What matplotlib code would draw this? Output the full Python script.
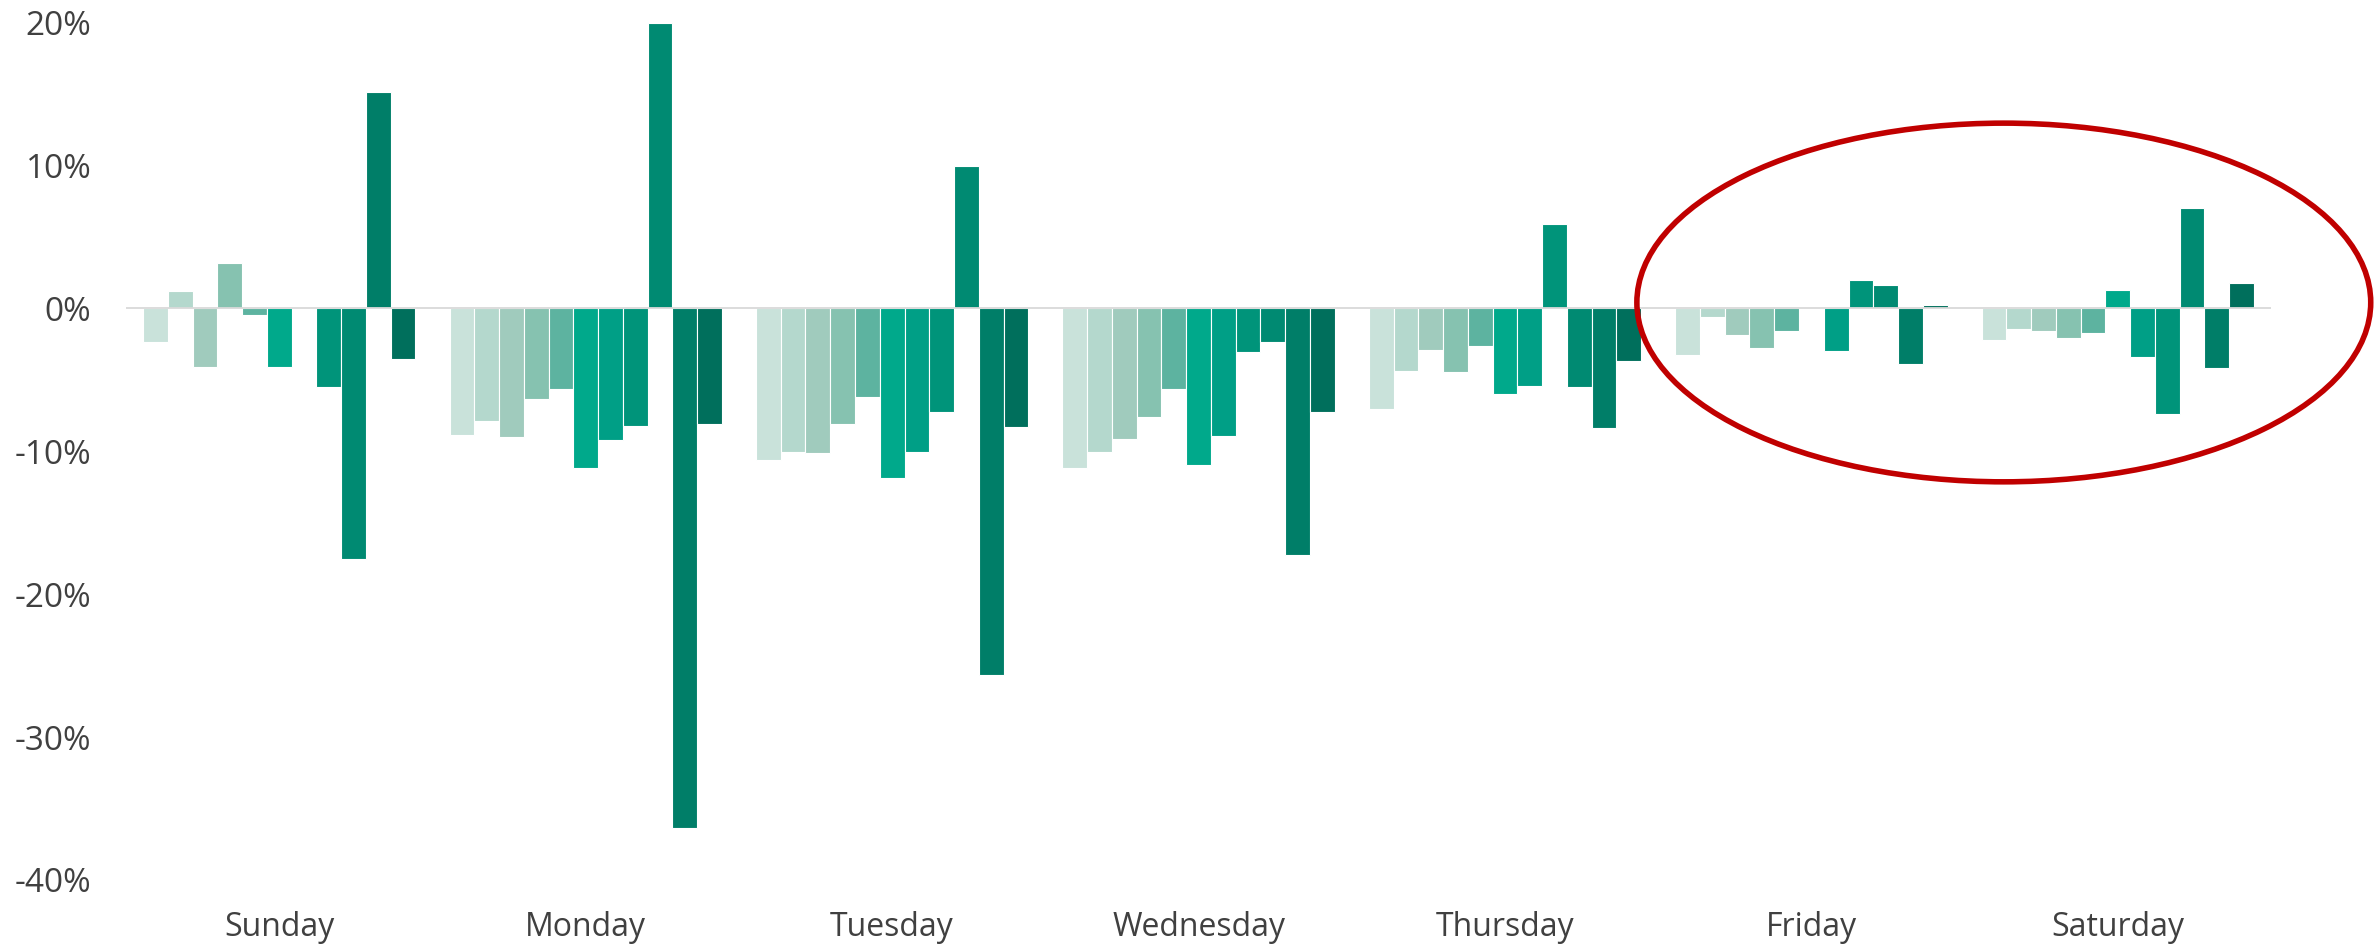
import numpy as np
import matplotlib
matplotlib.use("Agg")
import matplotlib.pyplot as plt
from matplotlib.patches import Ellipse
from matplotlib.ticker import FuncFormatter

plt.rcParams['font.family'] = ['Open Sans', 'DejaVu Sans']

days = ["Sunday", "Monday", "Tuesday", "Wednesday", "Thursday", "Friday", "Saturday"]

# percentage change per day, one list per series (11 series, light to dark)
s01 = [-2.34, -8.85, -10.59, -11.18, -7.04, -3.23, -2.22]
s02 = [1.24, -7.85, -10.02, -10.08, -4.40, -0.61, -1.47]
s03 = [-4.08, -9.00, -10.15, -9.17, -2.90, -1.85, -1.59]
s04 = [3.20, -6.35, -8.11, -7.58, -4.47, -2.81, -2.06]
s05 = [-0.46, -5.62, -6.17, -5.67, -2.67, -1.59, -1.73]
s06 = [-4.08, -11.15, -11.87, -10.97, -6.01, np.nan, 1.29]
s07 = [np.nan, -9.19, -10.05, -8.92, -5.43, -3.02, -3.42]
s08 = [-5.48, -8.23, -7.27, -3.06, 5.92, 1.99, -7.40]
s09 = [-17.53, 20.00, 9.96, -2.39, -5.47, 1.61, 7.04]
s10 = [15.12, -36.38, -25.65, -17.26, -8.40, -3.91, -4.16]
s11 = [-3.52, -8.08, -8.30, -7.23, -3.65, 0.26, 1.75]

series = [s01, s02, s03, s04, s05, s06, s07, s08, s09, s10, s11]
colors = ["#c9e2da", "#b4d8cd", "#a0cbbd", "#86c2b0", "#5db3a0", "#00a98b",
          "#009f86", "#00947a", "#008a72", "#007e68", "#006f5c"]

fig = plt.figure(figsize=(23.79, 9.47), dpi=100)
ax = fig.add_axes([0.0530, 0.0708, 0.9016, 0.9054])

x = np.arange(len(days))
n = len(series)
step = 0.0808
for j, (vals, col) in enumerate(zip(series, colors)):
    ax.bar(x + (j - (n - 1) / 2) * step, np.array(vals, dtype=float), width=step,
           color=col, edgecolor="white", linewidth=0.8, zorder=2)

ax.axhline(0, color="#d9d9d9", linewidth=1.3, zorder=3)

ax.set_xlim(-0.5, len(days) - 0.5)
ax.set_ylim(-40, 20)
ax.set_yticks(np.arange(-40, 21, 10))
ax.yaxis.set_major_formatter(FuncFormatter(lambda v, p: f"{v:.0f}%"))
ax.set_xticks(x)
ax.set_xticklabels(days)

for sp in ax.spines.values():
    sp.set_visible(False)
ax.tick_params(axis="both", length=0, labelcolor="#404040")
ax.tick_params(axis="x", labelsize=23, pad=22)
ax.tick_params(axis="y", labelsize=24, pad=25)

# highlight around Friday and Saturday
ell = Ellipse((5.628, 0.41), width=2.395, height=25.1, fill=False,
              edgecolor="#c00000", linewidth=4.0, clip_on=False, zorder=4)
ax.add_patch(ell)

fig.savefig("out.png", dpi=100, facecolor="white")
